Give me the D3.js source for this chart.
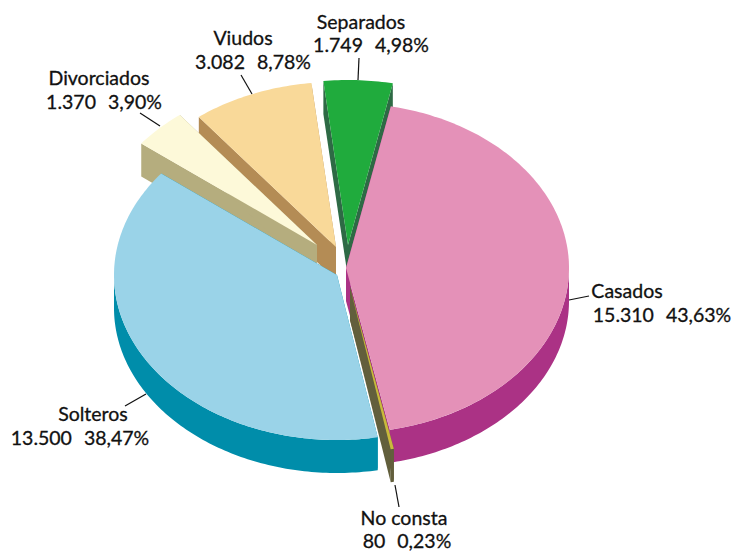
<!DOCTYPE html>
<html><head><meta charset="utf-8">
<style>html,body{margin:0;padding:0;background:#fff}svg{display:block}
text{font-family:Lato,"Noto Sans",sans-serif;fill:#111;stroke:#111;stroke-width:.3px;white-space:pre;text-anchor:middle}
.name{font-size:19.5px}.val{font-size:19.5px;word-spacing:1px}</style>
<script src="https://cdn.jsdelivr.net/npm/d3@7/dist/d3.min.js"></script></head>
<body><svg id="c" width="735" height="551"></svg>
<script>
const categories=["Casados","No consta","Solteros","Divorciados","Viudos","Separados"];
const counts=[15310,80,13500,1370,3082,1749];
const countLabels=["15.310","80","13.500","1.370","3.082","1.749"];
const percentLabels=["43,63%","0,23%","38,47%","3,90%","8,78%","4,98%"];

const topColors=["#e491b8","#c9b93c","#9ad3e8","#fdf9d9","#f9d999","#20ab3d"];
const wallColors=["#ab3285","#625f3c","#008daa","#b5ad7e","#b48c55","#2e6a45"];
const centers=[[346,268],[350,287],[337,275],[317,245],[336,247],[348,245]];
const paintOrder=[5,4,3,2,0,1];
const labelLayout=[
 {x:627,y:298,gap:24,lead:[[569,300],[589,296]],x2:662},
 {x:404,y:525,gap:23,lead:[[395,485],[399,507]],x2:407},
 {x:93,y:421,gap:24,lead:[[146,394],[125,406]],x2:80},
 {x:99,y:85,gap:24,lead:[[160,126],[140,113]],x2:104},
 {x:243,y:45,gap:24,lead:[[252,94],[241,75]],x2:253},
 {x:361,y:29,gap:23,lead:[[358,80],[359,58]],x2:371}
];

const svg=d3.select("#c");
const rx=d3.scaleLinear().domain([0,1]).range([0,223]);
const ry=d3.scaleLinear().domain([0,1]).range([0,165]);
const depth=33;
const pie=d3.pie().value(d=>d).sort(null).startAngle(11.6*Math.PI/180).endAngle((360+11.6)*Math.PI/180);
const arcs=pie(counts);
const line=d3.line();
const pt=(i,a,dy=0)=>[centers[i][0]+rx(Math.sin(a)),centers[i][1]-ry(Math.cos(a))+dy];
const samples=(a0,a1)=>{const n=Math.max(2,Math.ceil((a1-a0)*60));return d3.range(n+1).map(k=>a0+(a1-a0)*k/n);};

paintOrder.forEach(i=>{
 const {startAngle:a0,endAngle:a1}=arcs[i];
 const g=svg.append("g");
 const c=centers[i];
 [a0,a1].forEach(a=>{
  g.append("path").attr("fill",wallColors[i])
   .attr("d",line([c,pt(i,a),pt(i,a,depth),[c[0],c[1]+depth]])+"Z");
 });
 const lo=Math.max(a0,Math.PI/2),hi=Math.min(a1,Math.PI*1.5);
 if(hi>lo){
  const as=samples(lo,hi);
  g.append("path").attr("fill",wallColors[i])
   .attr("d",line(as.map(a=>pt(i,a)).concat(as.slice().reverse().map(a=>pt(i,a,depth))))+"Z");
 }
 g.append("path").attr("fill",topColors[i])
  .attr("d",line([c].concat(samples(a0,a1).map(a=>pt(i,a))))+"Z");
});

categories.forEach((name,i)=>{
 const l=labelLayout[i];
 svg.append("path").attr("d",line(l.lead)).attr("stroke","#111").attr("stroke-width",1.2).attr("fill","none");
 svg.append("text").attr("class","name").attr("x",l.x).attr("y",l.y).text(name);
 svg.append("text").attr("class","val").attr("x",l.x2).attr("y",l.y+l.gap).text(countLabels[i]+"  "+percentLabels[i]);
});
</script></body></html>
